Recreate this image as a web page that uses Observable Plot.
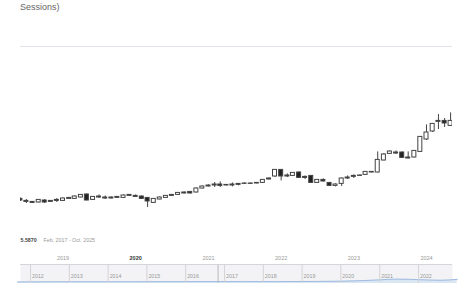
<!DOCTYPE html>
<html><head><meta charset="utf-8">
<script src="https://cdn.jsdelivr.net/npm/d3@7"></script>
<script src="https://cdn.jsdelivr.net/npm/@observablehq/plot@0.6"></script>
<style>
html,body{margin:0;padding:0;background:#fff;}
#wrap{position:relative;width:462px;height:283px;overflow:hidden;font-family:"Liberation Sans",Arial,sans-serif;}
#title{position:absolute;left:20px;top:2px;font-size:9px;color:#666;line-height:11px;white-space:nowrap;}
#main{position:absolute;left:0;top:0;}
#nav{position:absolute;left:0;top:263px;}
</style></head><body>
<div id="wrap">
  <div id="main"></div>
  <div id="title">Sessions)</div>
  <div id="nav"></div>
</div>
<script>
// ---- data ----
const months = [
  "2018-06","2018-07","2018-08","2018-09","2018-10","2018-11","2018-12",
  "2019-01","2019-02","2019-03","2019-04","2019-05","2019-06","2019-07","2019-08","2019-09","2019-10","2019-11","2019-12",
  "2020-01","2020-02","2020-03","2020-04","2020-05","2020-06","2020-07","2020-08","2020-09","2020-10","2020-11","2020-12",
  "2021-01","2021-02","2021-03","2021-04","2021-05","2021-06","2021-07","2021-08","2021-09","2021-10","2021-11","2021-12",
  "2022-01","2022-02","2022-03","2022-04","2022-05","2022-06","2022-07","2022-08","2022-09","2022-10","2022-11","2022-12",
  "2023-01","2023-02","2023-03","2023-04","2023-05","2023-06","2023-07","2023-08","2023-09","2023-10","2023-11","2023-12",
  "2024-01","2024-02","2024-03","2024-04","2024-05"
];
const open = [
  1.68,1.58,1.53,1.50,1.60,1.53,1.63,
  1.58,1.68,1.68,1.75,1.90,1.63,1.80,1.75,1.70,1.73,1.73,1.83,
  1.83,1.80,1.73,1.48,1.65,1.73,1.83,1.88,2.00,2.03,2.00,2.20,
  2.30,2.35,2.40,2.38,2.35,2.38,2.43,2.43,2.45,2.48,2.65,2.80,
  3.13,2.80,2.83,3.00,2.78,2.83,2.48,2.63,2.48,2.33,2.43,2.70,
  2.78,2.83,2.88,3.03,3.00,3.60,3.93,3.95,4.00,3.75,3.75,4.03,
  4.65,5.05,5.53,5.58,5.33
];
const high = [
  1.73,1.65,1.55,1.65,1.65,1.60,1.70,
  1.73,1.75,1.83,1.90,1.93,1.80,1.88,1.83,1.78,1.80,1.88,1.90,
  1.88,1.83,1.75,1.70,1.78,1.85,1.90,1.98,2.03,2.05,2.23,2.33,
  2.38,2.50,2.53,2.40,2.48,2.45,2.48,2.48,2.50,2.65,2.73,3.15,
  3.15,2.93,3.00,3.03,2.83,2.85,2.65,2.68,2.50,2.43,2.73,2.83,
  2.88,2.88,3.05,3.05,4.03,3.95,4.08,4.08,4.03,4.03,4.10,4.80,
  5.38,5.45,5.90,5.70,5.98
];
const low = [
  1.55,1.45,1.45,1.48,1.45,1.50,1.50,
  1.55,1.65,1.65,1.73,1.58,1.60,1.70,1.65,1.68,1.70,1.70,1.80,
  1.75,1.65,1.25,1.45,1.63,1.70,1.80,1.85,1.93,1.93,1.98,2.18,
  2.28,2.25,2.25,2.33,2.28,2.33,2.40,2.40,2.43,2.45,2.63,2.75,
  2.58,2.75,2.80,2.70,2.65,2.45,2.45,2.53,2.30,2.28,2.30,2.65,
  2.70,2.80,2.85,2.98,2.98,3.58,3.90,3.90,3.70,3.68,3.73,4.00,
  4.60,5.00,5.15,5.25,5.30
];
const close = [
  1.60,1.53,1.48,1.63,1.50,1.58,1.58,
  1.70,1.73,1.80,1.88,1.60,1.78,1.75,1.70,1.75,1.78,1.85,1.88,
  1.78,1.68,1.55,1.68,1.75,1.83,1.88,1.98,1.95,1.95,2.20,2.30,
  2.35,2.40,2.33,2.35,2.40,2.43,2.45,2.45,2.48,2.63,2.70,3.13,
  2.80,2.85,2.98,2.73,2.73,2.48,2.63,2.55,2.33,2.40,2.70,2.75,
  2.83,2.85,3.03,3.00,3.63,3.90,4.05,4.00,3.73,3.70,4.08,4.78,
  5.00,5.43,5.58,5.45,5.58
];
const yearTicks = ["2019","2020","2021","2022","2023","2024"];
const boldYear = "2020";
const rangeValue = "5.5870";
const rangeLabel = "Feb. 2017 - Oct. 2025";
const navYears = ["2012","2013","2014","2015","2016","2017","2018","2019","2020","2021","2022"];
const navDates = ["2011-09","2013-01","2014-06","2016-01","2017-06","2018-06","2019-06","2020-01","2020-06","2021-01","2021-06","2021-10","2022-03","2022-08","2023-01"];
const navValues = [0.8,0.9,0.9,1.0,1.0,1.0,1.1,1.2,1.4,1.9,2.3,2.2,1.9,1.7,2.2];
const navHandle = ["2016-11"];

// ---- build ----
const font = "'Liberation Sans', Arial, sans-serif";
const candles = months.map((m, i) => ({date: new Date(m + "-01"), open: open[i], high: high[i], low: low[i], close: close[i]}));
const yDomain = [0, 9.3];

// main x scale: year ticks at fixed pixel spacing
const W = 462, mL = 20, mR = 10;
const t19 = Date.UTC(2019, 0, 1), t24 = Date.UTC(2024, 0, 1);
const k = (426 - 62.5) / (t24 - t19);
const xDomain = [new Date(t19 - (62.5 - mL) / k), new Date(t24 + (W - mR - 426) / k)];
const half = 2 / k;

const main = Plot.plot({
  width: W, height: 262,
  marginTop: 46, marginBottom: 30, marginLeft: mL, marginRight: mR,
  style: {fontFamily: font, background: "transparent"},
  x: {type: "utc", domain: xDomain, axis: null},
  y: {domain: yDomain, axis: null},
  marks: [
    Plot.ruleY([yDomain[1]], {stroke: "#dfe2e8"}),
    Plot.ruleX(candles, {x: "date", y1: "low", y2: "high", stroke: "#444", clip: true}),
    Plot.rect(candles, {
      x1: d => new Date(+d.date - half), x2: d => new Date(+d.date + half),
      y1: "open", y2: "close",
      fill: d => d.close >= d.open ? "#fff" : "#222",
      stroke: "#444", strokeWidth: 1, clip: true
    }),
    Plot.text(yearTicks.filter(d => d !== boldYear), {
      x: d => new Date(d + "-01-01"), text: d => d, frameAnchor: "bottom", dy: 27,
      fill: "#999", fontSize: 5.5
    }),
    Plot.text(yearTicks.filter(d => d === boldYear), {
      x: d => new Date(d + "-01-01"), text: d => d, frameAnchor: "bottom", dy: 27,
      fill: "#333", fontSize: 5.5, fontWeight: "bold"
    }),
    Plot.text([rangeValue], {text: d => d, frameAnchor: "bottom-left", textAnchor: "start", dy: 9.5, fill: "#444", fontSize: 5.3, fontWeight: "bold"}),
    Plot.text([rangeLabel], {text: d => d, frameAnchor: "bottom-left", textAnchor: "start", dx: 23, dy: 9.5, fill: "#999", fontSize: 5.3})
  ]
});
document.getElementById("main").append(main);

// navigator
const n12 = Date.UTC(2012, 0, 1), n22 = Date.UTC(2022, 0, 1);
const k2 = (418 - 30) / (n22 - n12);
const navXDomain = [new Date(n12 - (30 - mL) / k2), new Date(n22 + (W - mR - 418) / k2)];
const navData = navDates.map((d, i) => ({date: new Date(d + "-01"), value: navValues[i]}));
const navYDomain = [0, 10];

const nav = Plot.plot({
  width: W, height: 20,
  marginTop: 1, marginBottom: 0, marginLeft: mL, marginRight: mR,
  style: {fontFamily: font, background: "transparent"},
  x: {type: "utc", domain: navXDomain, axis: null},
  y: {domain: navYDomain, axis: null},
  marks: [
    Plot.frame({fill: "#f3f3f5", stroke: null}),
    Plot.areaY(navData, {x: "date", y: "value", fill: "#dbe6f3", curve: "monotone-x"}),
    Plot.lineY(navData, {x: "date", y: "value", stroke: "#9fbbe0", strokeWidth: 1, curve: "monotone-x"}),
    Plot.ruleX(navYears, {x: d => new Date(d + "-01-01"), stroke: "#d4d4d8"}),
    Plot.ruleX(navHandle, {x: d => new Date(d + "-01"), stroke: "#b8b8bc"}),
    Plot.ruleY([navYDomain[1]], {stroke: "#d6d6da"}),
    Plot.text(navYears, {
      x: d => new Date(d + "-01-01"), text: d => d, textAnchor: "start", dx: 1.5,
      frameAnchor: "bottom", dy: -6, fill: "#999", fontSize: 5.3
    })
  ]
});
document.getElementById("nav").append(nav);
</script>
</body></html>
